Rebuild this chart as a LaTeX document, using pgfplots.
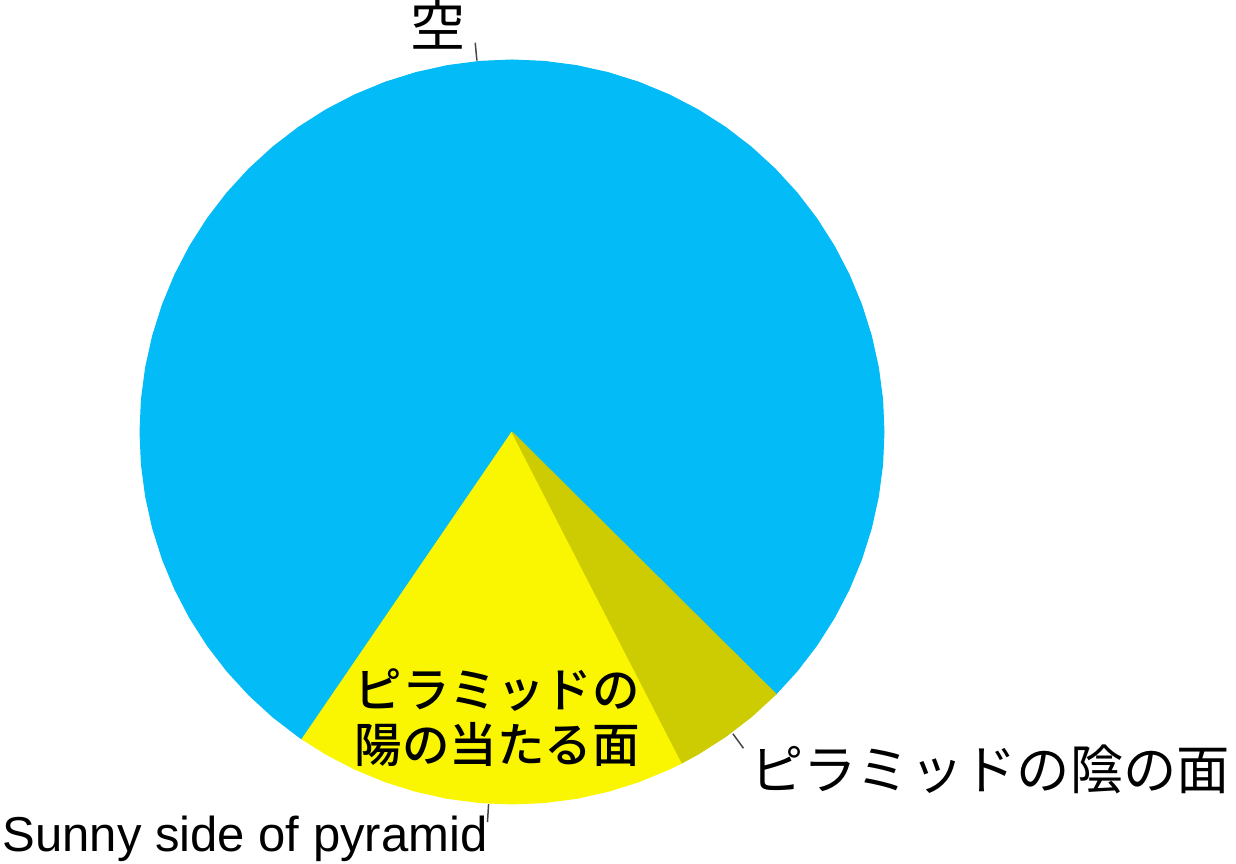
\documentclass[border=0pt]{standalone}
\usepackage{fontspec}
\setmainfont{Liberation Sans}
\newfontfamily\jp{Noto Sans CJK JP}
\newfontfamily\jpm{Noto Sans CJK JP Medium}
\usepackage{pgfplots}
\pgfplotsset{compat=1.18}
\definecolor{sky}{RGB}{3,187,247}
\definecolor{sunny}{RGB}{250,245,0}
\definecolor{shade}{RGB}{205,204,2}
\definecolor{leader}{RGB}{70,70,70}
\begin{document}
\begin{tikzpicture}
\begin{axis}[
  scale only axis, width=370.8pt, height=259.2pt,
  xmin=-512, xmax=724, ymin=-432, ymax=432,
  hide axis, clip=false,
]
% Sky: 77.9%
\addplot[fill=sky, draw=sky, line width=0.3pt, data cs=polar] coordinates {
(0,0) (315.2,372) (320,372) (325,372) (330,372) (335,372) (340,372) (345,372) (350,372) (355,372)
(360,372) (365,372) (370,372) (375,372) (380,372) (385,372) (390,372) (395,372) (400,372) (405,372)
(410,372) (415,372) (420,372) (425,372) (430,372) (435,372) (440,372) (445,372) (450,372) (455,372)
(460,372) (465,372) (470,372) (475,372) (480,372) (485,372) (490,372) (495,372) (500,372) (505,372)
(510,372) (515,372) (520,372) (525,372) (530,372) (535,372) (540,372) (545,372) (550,372) (555,372)
(560,372) (565,372) (570,372) (575,372) (580,372) (585,372) (590,372) (595,372) (595.65,372) (0,0)};
% Sunny side: 17.1%
\addplot[fill=sunny, draw=sunny, line width=0.3pt, data cs=polar] coordinates {
(0,0) (235.65,372) (240,372) (245,372) (250,372) (255,372) (260,372) (265,372) (270,372) (275,372)
(280,372) (285,372) (290,372) (295,372) (297.2,372) (0,0)};
% Shady side: 5.0%
\addplot[fill=shade, draw=shade, line width=0.3pt, data cs=polar] coordinates {
(0,0) (297.2,372) (300,372) (305,372) (310,372) (315,372) (315.2,372) (0,0)};
% leader lines
\addplot[leader, line width=0.45pt, data cs=polar] coordinates {(95.4,373) (95.4,391)};
\addplot[leader, line width=0.45pt, data cs=polar] coordinates {(266.4,373) (266.4,391)};
\addplot[leader, line width=0.45pt, data cs=polar] coordinates {(306.2,374) (306.2,392)};
% labels
\node[inner sep=0pt, anchor=center, font=\jp\fontsize{16.5pt}{18pt}\selectfont] at (axis cs:-74,407) {空};
\node[inner sep=0pt, anchor=center, font=\jp\fontsize{16pt}{18pt}\selectfont] at (axis cs:478,-337) {ピラミッドの陰の面};
\node[inner sep=0pt, anchor=center, align=center, font=\jpm\fontsize{14.25pt}{16.5pt}\selectfont] at (axis cs:-15,-286) {ピラミッドの\\陽の当たる面};
\node[inner sep=0pt, anchor=base west, font=\fontsize{14.7pt}{17pt}\selectfont] at (axis cs:-510,-420) {Sunny side of pyramid};
\coordinate (BL) at (axis cs:-512,-432);
\coordinate (TR) at (axis cs:724,432);
\end{axis}
\pgfresetboundingbox
\path (BL) rectangle (TR);
\end{tikzpicture}
\end{document}
